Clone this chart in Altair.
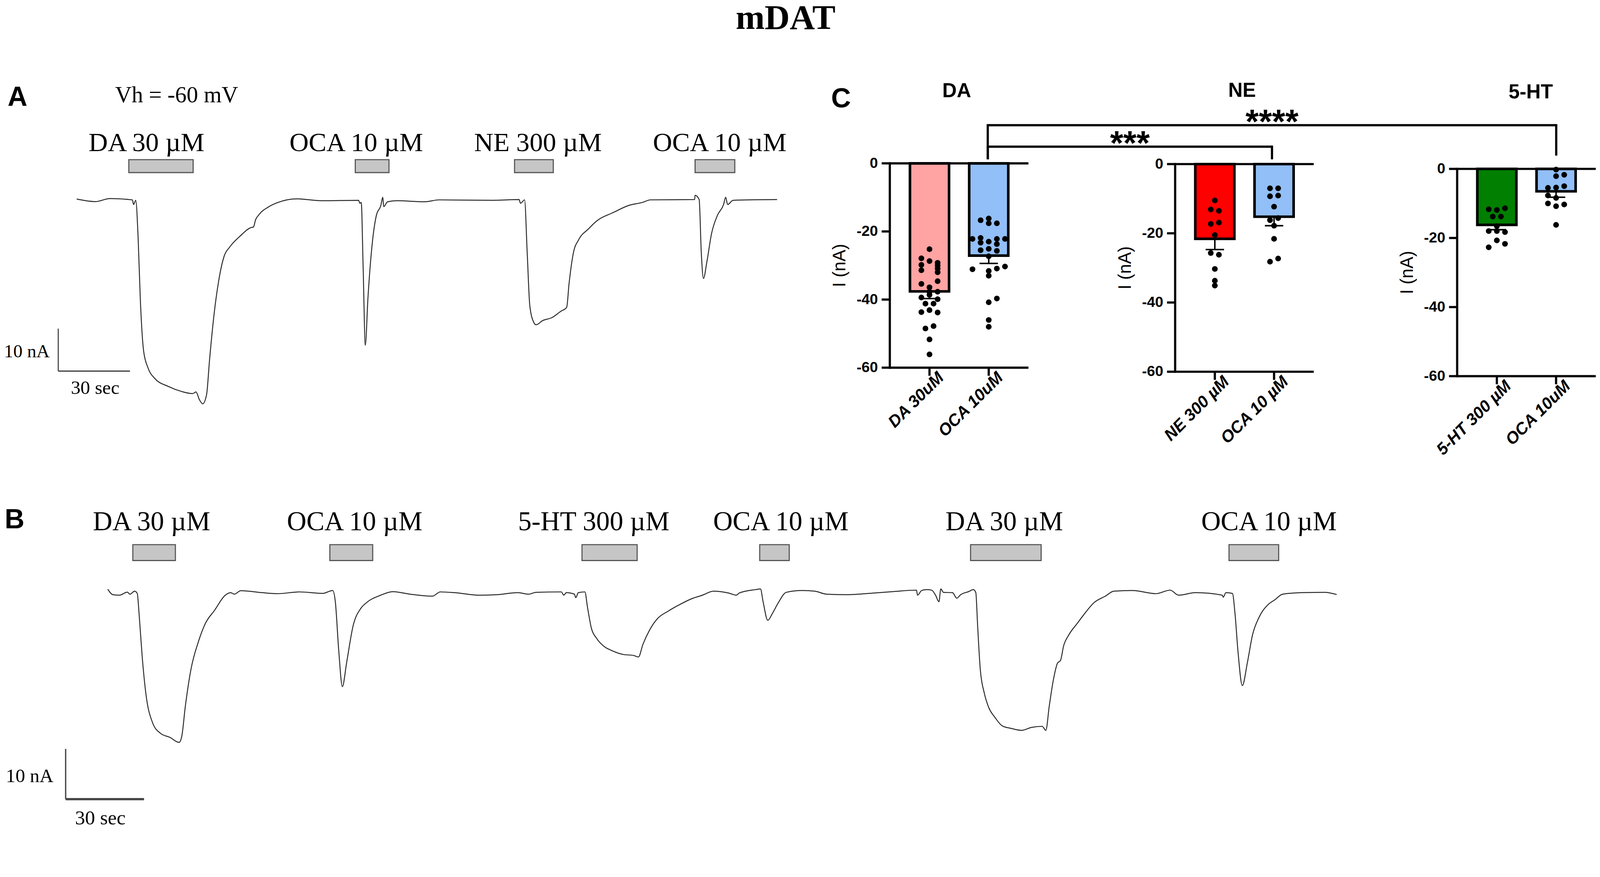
import altair as alt
import pandas as pd

# ======================= DATA =======================
# Panel A trace (time in s, current in nA)
A_t = [0.0, 7.9, 13.9, 23.3, 23.8, 24.7, 25.7, 26.6, 28.0, 29.8, 32.6, 38.3, 43.9, 48.5, 49.9, 51.3,
       52.7, 54.3, 55.6, 57.5, 59.4, 61.7, 64.0, 68.2, 73.0, 73.9, 74.8, 76.2, 80.4, 84.2, 92.1, 102.0,
       117.9, 118.4, 119.0, 119.8, 120.7, 121.8, 123.5, 125.3, 127.2, 128.0, 128.4, 130.0, 133.8, 145.7,
       151.5, 174.2, 185.0, 185.6, 187.3, 188.4, 189.5, 191.2, 192.1, 194.9, 198.8, 202.5, 204.9, 205.9,
       207.7, 210.0, 213.9, 217.6, 224.3, 230.9, 236.6, 239.9, 258.4, 258.6, 260.3, 261.2, 262.1, 263.5,
       265.5, 267.9, 270.5, 271.4, 272.2, 274.5, 292.9]
A_I = [0.3, -0.3, 0.4, 0.1, -1.0, 0.0, -8.9, -23.1, -35.5, -39.4, -41.9, -43.8, -45.0, -45.5, -45.1, -46.9,
       -47.9, -45.8, -37.3, -26.6, -18.9, -13.1, -11.0, -8.5, -6.4, -6.3, -4.6, -3.4, -1.5, -0.5, 0.35, -0.1,
       0.0, -0.7, -0.5, -16.0, -34.1, -23.0, -10.7, -3.6, -1.2, 0.7, -1.5, -0.35, -0.1, -0.35,
       0.1, 0.0, 0.17, -0.7, 0.1, -12.4, -24.9, -28.8, -29.3, -28.3, -27.6, -26.1, -25.2, -19.6,
       -12.4, -9.2, -6.8, -4.8, -2.9, -1.2, -0.5, 0.1, 0.17, 1.2, 0.17, -12.4, -18.4, -14.6,
       -7.8, -3.6, -1.0, 0.7, -1.0, 0.0, 0.17]

# Panel B trace
B_t = [0.0, 2.0, 4.5, 7.5, 8.5, 10.3, 11.3, 12.0, 13.2, 14.6,
       17.1, 20.2, 23.8, 27.3, 28.3, 29.7, 31.8, 34.8, 37.3, 40.9,
       45.0, 47.0, 48.5, 50.9, 59.1, 65.1, 73.3, 82.3, 86.1, 87.1,
       88.4, 89.8, 91.4, 93.9, 96.9, 99.0, 104.5, 109.1, 115.7, 124.2,
       127.3, 132.8, 141.9, 148.9, 156.9, 161.0, 163.9, 173.6, 174.5, 175.5,
       178.6, 179.1, 180.1, 182.6, 183.6, 185.1, 187.1, 190.2, 192.8, 197.3,
       201.3, 203.1, 204.8, 207.4, 210.5, 214.4, 219.5, 223.5, 227.6, 231.8,
       237.6, 240.5, 241.7, 247.8, 249.8, 250.8, 252.6, 254.3, 256.4, 259.7,
       265.9, 270.6, 275.1, 283.2, 293.2, 300.3, 309.5, 309.9, 311.5, 313.4,
       315.3, 316.8, 318.1, 318.8, 319.8, 323.3, 324.9, 326.4, 329.4, 331.3,
       332.2, 332.9, 333.9, 335.5, 337.1, 339.5, 342.3, 345.6, 349.7, 353.6,
       357.6, 359.0, 360.3, 361.8, 363.5, 364.6, 365.8, 367.8, 370.9, 373.8,
       377.4, 381.9, 385.0, 392.1, 401.1, 406.6, 409.8, 416.3, 426.5, 426.9,
       427.9, 430.4, 431.4, 432.5, 434.2, 436.1, 438.1, 440.6, 444.1, 446.7,
       449.6, 456.7, 465.8, 470.3]
B_I = [0.7, -0.4, -0.5, 0.1, -0.3, 0.3, -0.15, -4.2, -12.8, -20.1,
       -25.8, -28.0, -28.8, -29.8, -28.7, -22.6, -15.4, -9.6, -6.2, -3.5,
       -0.5, 0.0, -0.3, 0.4, 0.0, -0.2, 0.15, -0.15, 0.44, -1.8,
       -11.5, -18.7, -14.0, -6.6, -3.1, -2.0, -0.5, 0.2, -0.3, -0.7,
       0.15, 0.0, -0.5, -0.4, 0.0, -0.3, 0.07, 0.15, -0.5, 0.0,
       -0.3, -1.0, 0.0, 0.15, -2.9, -7.1, -9.1, -10.8, -11.5, -12.3,
       -12.5, -12.8, -10.3, -7.4, -5.1, -3.7, -2.2, -1.2, -0.5, 0.3,
       -0.07, -0.5, -0.07, 0.6, 0.74, -1.8, -5.5, -4.2, -2.2, 0.07,
       0.44, 0.3, -0.3, -0.4, -0.07, 0.2, 0.5, -0.5, 0.44, 0.6,
       0.5, -0.5, -1.8, 0.74, 0.07, 0.0, -1.1, -0.4, 0.2, 0.6,
       0.0, -6.6, -15.2, -20.1, -22.8, -24.8, -26.5, -27.0, -27.4, -26.8,
       -26.6, -27.4, -22.6, -17.6, -14.0, -13.5, -10.6, -8.4, -6.2, -4.2,
       -2.0, -0.66, 0.3, 0.44, -0.2, 0.5, -0.5, 0.0, -0.5, -0.9,
       0.0, -0.15, -4.2, -11.5, -18.5, -14.0, -8.4, -4.9, -2.35, -1.4,
       -0.3, 0.0, 0.07, -0.37]

# Drug applications (s)
A_drug = ["DA 30 µM", "OCA 10 µM", "NE 300 µM", "OCA 10 µM"]
A_on = [21.8, 116.5, 183.1, 258.6]
A_off = [48.7, 130.6, 199.3, 275.2]
A_lab_t = [29.2, 116.9, 192.9, 268.9]

B_drug = ["DA 30 µM", "OCA 10 µM", "5-HT 300 µM", "OCA 10 µM", "DA 30 µM", "OCA 10 µM"]
B_on = [9.6, 85.0, 181.5, 249.5, 330.2, 429.1]
B_off = [25.9, 101.4, 202.6, 260.8, 357.2, 448.1]
B_lab_t = [16.8, 94.5, 186.0, 257.6, 343.1, 444.4]

# Scale bars (anchor time, anchor current, lengths)
SB_A = {"t0": -7.7, "i0": -40.2, "dt": 30, "di": 10}
SB_B = {"t0": -16.1, "i0": -41.1, "dt": 30, "di": 10}

# Panel C
C_groups = ["DA", "NE", "5-HT"]
C_labels = [["DA 30uM", "OCA 10uM"], ["NE 300 µM", "OCA 10 µM"], ["5-HT 300 µM", "OCA 10uM"]]
C_means = [[-37.6, -27.1], [-21.6, -15.2], [-16.2, -6.5]]
C_sems = [[2.1, 2.3], [3.1, 2.6], [1.4, 1.7]]
C_colors = [["#ffa3a3", "#92bff7"], ["#ff0000", "#92bff7"], ["#007f00", "#92bff7"]]

DA_pts = [-25.2, -27.9, -28.7, -29.2, -29.8, -30.0, -30.9, -31.4, -32.0, -34.6, -35.4, -36.4, -37.7,
          -37.7, -38.6, -39.4, -39.9, -41.2, -41.2, -43.1, -43.7, -43.8, -47.8, -48.5, -51.7, -56.1]
DA_slot = [0, -2, 0, 2, -2, 2, 2, -2, 2, 2, -2, 0, 0, 2, 0, -2, 2, -1, 1, 0, -2, 2, 1, -1, 0, 0]
OCA1_pts = [-16.2, -16.7, -17.6, -17.6, -21.9, -22.2, -22.2, -22.2, -23.0, -23.3, -23.7, -25.1,
            -25.5, -25.7, -27.3, -30.3, -30.9, -31.1, -31.6, -33.0, -39.7, -40.8, -46.0, -48.0]
OCA1_slot = [0, -2, 0, 2, -2, -4, 2, 4, 0, -2, 2, 0, -2, 2, 0, 4, 2, -4, 0, 0, 2, 0, 0, 0]
NE_pts = [-10.5, -13.1, -13.5, -16.9, -17.3, -20.5, -25.7, -26.2, -30.3, -33.7, -35.1]
NE_slot = [0, -1, 1, 1, -1, 0, -1, 1, 0, 0, 0]
OCA2_pts = [-7.0, -7.0, -9.1, -9.3, -12.3, -15.6, -16.2, -17.8, -21.6, -27.3, -28.2]
OCA2_slot = [-1, 1, 1, -1, 0, 1, -1, 0, 0, 1, -1]
HT_pts = [-11.4, -11.7, -11.9, -13.8, -13.8, -16.6, -18.0, -18.0, -18.3, -20.7, -21.7, -22.7]
HT_slot = [2, -2, 0, -1, 1, 0, -2, 0, 2, 0, 2, -2]
OCA3_pts = [-0.2, -1.7, -2.1, -5.0, -5.4, -5.5, -7.7, -8.4, -10.0, -10.3, -10.8, -16.2]
OCA3_slot = [0, 2, 0, 2, 0, -2, -2, 0, -2, 2, 0, 0]

C_pts = [[DA_pts, OCA1_pts], [NE_pts, OCA2_pts], [HT_pts, OCA3_pts]]
C_slots = [[DA_slot, OCA1_slot], [NE_slot, OCA2_slot], [HT_slot, OCA3_slot]]
C_ticks = [-60, -40, -20, 0]
C_ytitle = "I (nA)"

# Significance brackets (between OCA bars, group index)
BR_from = [0, 0]
BR_to = [1, 2]
BR_level = [4.9, 11.2]
BR_foot_from = [1.5, 1.5]
BR_foot_to = [1.5, 2.6]
BR_text = ["***", "****"]

# ======================= LAYOUT / STYLE =======================
W, H = 4312, 2169
MX, MY = 8, 69          # page margin + observed vertical offset of the rendered view
def PX(v):
    return v - MX
def PY(v):
    return v - MY

SANS = "Liberation Sans, Arial, sans-serif"
SERIF = "Liberation Serif, Times New Roman, serif"
TRACE = "#2a2a2a"
GRAY_FILL = "#c6c6c6"
GRAY_STROKE = "#555555"


def trace_panel(t, I, names, on, off, lab_t, sb, x0, pxs, y0, pxn, tmax,
                bar_top, bar_bot, lab_base, fsize, sbw):
    xs = alt.Scale(domain=[0, tmax], range=[PX(x0), PX(x0 + tmax * pxs)], nice=False, zero=False)
    ys = alt.Scale(domain=[-50, 10], range=[PY(y0 + 50 * pxn), PY(y0 - 10 * pxn)], nice=False, zero=False)
    tr = pd.DataFrame({"t": t, "I": I})
    line = alt.Chart(tr).mark_line(color=TRACE, strokeWidth=2.6, interpolate="monotone").encode(
        x=alt.X("t:Q", scale=xs, axis=None), y=alt.Y("I:Q", scale=ys, axis=None))
    dr = pd.DataFrame({"name": names, "on": on, "off": off, "lt": lab_t})
    rects = alt.Chart(dr).mark_rect(fill=GRAY_FILL, stroke=GRAY_STROKE, strokeWidth=3).encode(
        x=alt.X("on:Q", scale=xs, axis=None), x2="off:Q",
        y=alt.value(PY(bar_top)), y2=alt.value(PY(bar_bot)))
    labs = alt.Chart(dr).mark_text(font=SERIF, fontSize=fsize, align="center", baseline="alphabetic",
                                   color="black").encode(
        x=alt.X("lt:Q", scale=xs, axis=None), y=alt.value(PY(lab_base)), text="name:N")
    sbd = pd.DataFrame({"t0": [sb["t0"]], "t1": [sb["t0"] + sb["dt"]],
                        "i0": [sb["i0"]], "i1": [sb["i0"] + sb["di"]]})
    sbv = alt.Chart(sbd).mark_rule(color="#444444", strokeWidth=sbw[0]).encode(
        x=alt.X("t0:Q", scale=xs, axis=None), y=alt.Y("i0:Q", scale=ys, axis=None), y2="i1:Q")
    sbh = alt.Chart(sbd).mark_rule(color="#444444", strokeWidth=sbw[1]).encode(
        x=alt.X("t0:Q", scale=xs, axis=None), x2="t1:Q", y=alt.Y("i0:Q", scale=ys, axis=None))
    return alt.layer(rects, labs, line, sbv, sbh)


panelA = trace_panel(A_t, A_I, A_drug, A_on, A_off, A_lab_t, SB_A,
                     207, 6.47, 541, 11.5, 300, 431, 466, 408, 72, (3, 3.5))
panelB = trace_panel(B_t, B_I, B_drug, B_on, B_off, B_lab_t, SB_B,
                     291, 7.07, 1603, 13.6, 470, 1473, 1516, 1434, 73, (3.5, 6))

C_axis_x = [2407, 3179, 3942]
C_top = [441, 443, 456]
C_bot = [994, 1005, 1017]
C_W = 375
XMIN, XMAX = -0.67, 1.67
SLOT = 0.0686
TICK_PX = 22
AXW = 6


def c_panel(g):
    ax = C_axis_x[g]
    xs = alt.Scale(domain=[XMIN, XMAX], range=[PX(ax), PX(ax + C_W)], nice=False, zero=False)
    ys = alt.Scale(domain=[-60, 0], range=[PY(C_bot[g]), PY(C_top[g])], nice=False, zero=False)
    ux = C_W / (XMAX - XMIN)              # px per x unit
    uy = (C_bot[g] - C_top[g]) / 60.0     # px per nA
    tick_x = TICK_PX / ux
    tick_y = TICK_PX / uy

    X = lambda f: alt.X(f, scale=xs, axis=None)
    Y = lambda f: alt.Y(f, scale=ys, axis=None)

    bd = pd.DataFrame({"idx": [0, 1], "label": C_labels[g], "mean": C_means[g],
                       "sem": C_sems[g], "color": C_colors[g]})
    bd["lo"] = bd["mean"] - bd["sem"]
    bars = alt.Chart(bd).transform_calculate(
        xl="datum.idx - 0.33", xr="datum.idx + 0.33", zero="0"
    ).mark_bar(stroke="black", strokeWidth=7).encode(
        x=X("xl:Q"), x2="xr:Q", y=Y("mean:Q"), y2="zero:Q",
        fill=alt.Fill("color:N", scale=None))

    rows = []
    for k in range(2):
        for v, s in zip(C_pts[g][k], C_slots[g][k]):
            rows.append({"idx": k, "v": v, "slot": s})
    pdf = pd.DataFrame(rows)
    pts = alt.Chart(pdf).transform_calculate(px=f"datum.idx + datum.slot * {SLOT}").mark_circle(
        size=240, color="black", opacity=1).encode(x=X("px:Q"), y=Y("v:Q"))
    err = alt.Chart(bd).mark_rule(color="black", strokeWidth=4).encode(
        x=X("idx:Q"), y=Y("mean:Q"), y2="lo:Q")
    cap = alt.Chart(bd).transform_calculate(cl="datum.idx - 0.155", cr="datum.idx + 0.155").mark_rule(
        color="black", strokeWidth=4).encode(x=X("cl:Q"), x2="cr:Q", y=Y("lo:Q"))

    # axes drawn from the scales
    frame = pd.DataFrame({"a": [XMIN], "b": [XMAX], "top": [0], "bot": [-60]})
    zl = alt.Chart(frame).mark_rule(color="black", strokeWidth=AXW).encode(
        x=X("a:Q"), x2="b:Q", y=Y("top:Q"))
    bl = alt.Chart(frame).mark_rule(color="black", strokeWidth=AXW).encode(
        x=X("a:Q"), x2="b:Q", y=Y("bot:Q"))
    yl = alt.Chart(frame).mark_rule(color="black", strokeWidth=AXW, strokeCap="square").encode(
        x=X("a:Q"), y=Y("bot:Q"), y2="top:Q")
    td = pd.DataFrame({"v": C_ticks, "lab": [str(v) for v in C_ticks]})
    td["x0"] = XMIN - tick_x
    td["x1"] = XMIN
    yt = alt.Chart(td).mark_rule(color="black", strokeWidth=AXW).encode(
        x=X("x0:Q"), x2="x1:Q", y=Y("v:Q"))
    ytl = alt.Chart(td).mark_text(font=SANS, fontSize=40, fontWeight="bold", align="right",
                                  baseline="middle", dx=-10, color="black").encode(
        x=X("x0:Q"), y=Y("v:Q"), text="lab:N")
    ttl = pd.DataFrame({"x": [XMIN - 134 / ux], "y": [-30], "t": [C_ytitle]})
    yttl = alt.Chart(ttl).mark_text(font=SANS, fontSize=48, angle=270, align="center",
                                    baseline="middle", color="black").encode(
        x=X("x:Q"), y=Y("y:Q"), text="t:N")
    xd = pd.DataFrame({"idx": [0, 1], "label": C_labels[g], "y0": [-60, -60],
                       "y1": [-60 - tick_y, -60 - tick_y]})
    xt = alt.Chart(xd).mark_rule(color="black", strokeWidth=AXW).encode(
        x=X("idx:Q"), y=Y("y0:Q"), y2="y1:Q")
    xtl = alt.Chart(xd).mark_text(font=SANS, fontSize=45, fontWeight="bold", fontStyle="italic",
                                  angle=315, align="right", baseline="middle", dy=36, dx=8,
                                  color="black").encode(
        x=X("idx:Q"), y=Y("y0:Q"), text="label:N")
    return alt.layer(bars, pts, err, cap, zl, bl, yl, yt, ytl, yttl, xt, xtl)


panelsC = [c_panel(g) for g in range(3)]

# brackets
bxs = alt.Scale(domain=[0, 2], range=[PX(2672), PX(4210)], nice=False, zero=False)
bys = alt.Scale(domain=[-60, 0], range=[PY(994), PY(441)], nice=False, zero=False)
brd = pd.DataFrame({"f": BR_from, "t": BR_to, "lv": BR_level, "ff": BR_foot_from,
                    "ft": BR_foot_to, "txt": BR_text})
br_h = alt.Chart(brd).mark_rule(color="black", strokeWidth=6).encode(
    x=alt.X("f:Q", scale=bxs, axis=None), x2="t:Q", y=alt.Y("lv:Q", scale=bys, axis=None))
br_l = alt.Chart(brd).mark_rule(color="black", strokeWidth=6, strokeCap="square").encode(
    x=alt.X("f:Q", scale=bxs, axis=None), y=alt.Y("ff:Q", scale=bys, axis=None), y2="lv:Q")
br_r = alt.Chart(brd).mark_rule(color="black", strokeWidth=6, strokeCap="square").encode(
    x=alt.X("t:Q", scale=bxs, axis=None), y=alt.Y("ft:Q", scale=bys, axis=None), y2="lv:Q")
br_s = alt.Chart(brd).transform_calculate(mid="(datum.f + datum.t) / 2").mark_text(
    font=SANS, fontSize=92, fontWeight="bold", baseline="alphabetic", align="center", color="black",
    dy=22).encode(x=alt.X("mid:Q", scale=bxs, axis=None), y=alt.Y("lv:Q", scale=bys, axis=None),
                  text="txt:N")
brackets = alt.layer(br_h, br_l, br_r, br_s)

# static text annotations: (text, x, y, font, size, weight, align)
ANN = [
    ("mDAT", 2125, 77, SERIF, 94, "bold", "center"),
    ("A", 47, 285, SANS, 74, "bold", "center"),
    ("B", 39, 1429, SANS, 74, "bold", "center"),
    ("C", 2275, 289, SANS, 74, "bold", "center"),
    ("Vh = -60 mV", 311, 276, SERIF, 62, "normal", "left"),
    ("10 nA", 134, 966, SERIF, 50, "normal", "right"),
    ("30 sec", 257, 1065, SERIF, 52, "normal", "center"),
    ("10 nA", 144, 2116, SERIF, 52, "normal", "right"),
    ("30 sec", 271, 2230, SERIF, 54, "normal", "center"),
    ("DA", 2588, 262, SANS, 54, "bold", "center"),
    ("NE", 3360, 261, SANS, 54, "bold", "center"),
    ("5-HT", 4141, 265, SANS, 54, "bold", "center"),
]
one = pd.DataFrame({"k": [0]})
texts = []
for txt, x, y, font, size, weight, align in ANN:
    texts.append(alt.Chart(one).mark_text(text=txt, font=font, fontSize=size, fontWeight=weight,
                                          align=align, baseline="alphabetic", color="black").encode(
        x=alt.value(PX(x)), y=alt.value(PY(y))))

chart = alt.layer(panelA, panelB, *panelsC, brackets, *texts).resolve_scale(
    x="independent", y="independent"
).properties(
    width=W, height=H, autosize=alt.AutoSizeParams(type="none"), padding=0, background="white"
).configure_view(stroke=None)

chart.save("out.html", embed_options={"renderer": "svg", "actions": False})
